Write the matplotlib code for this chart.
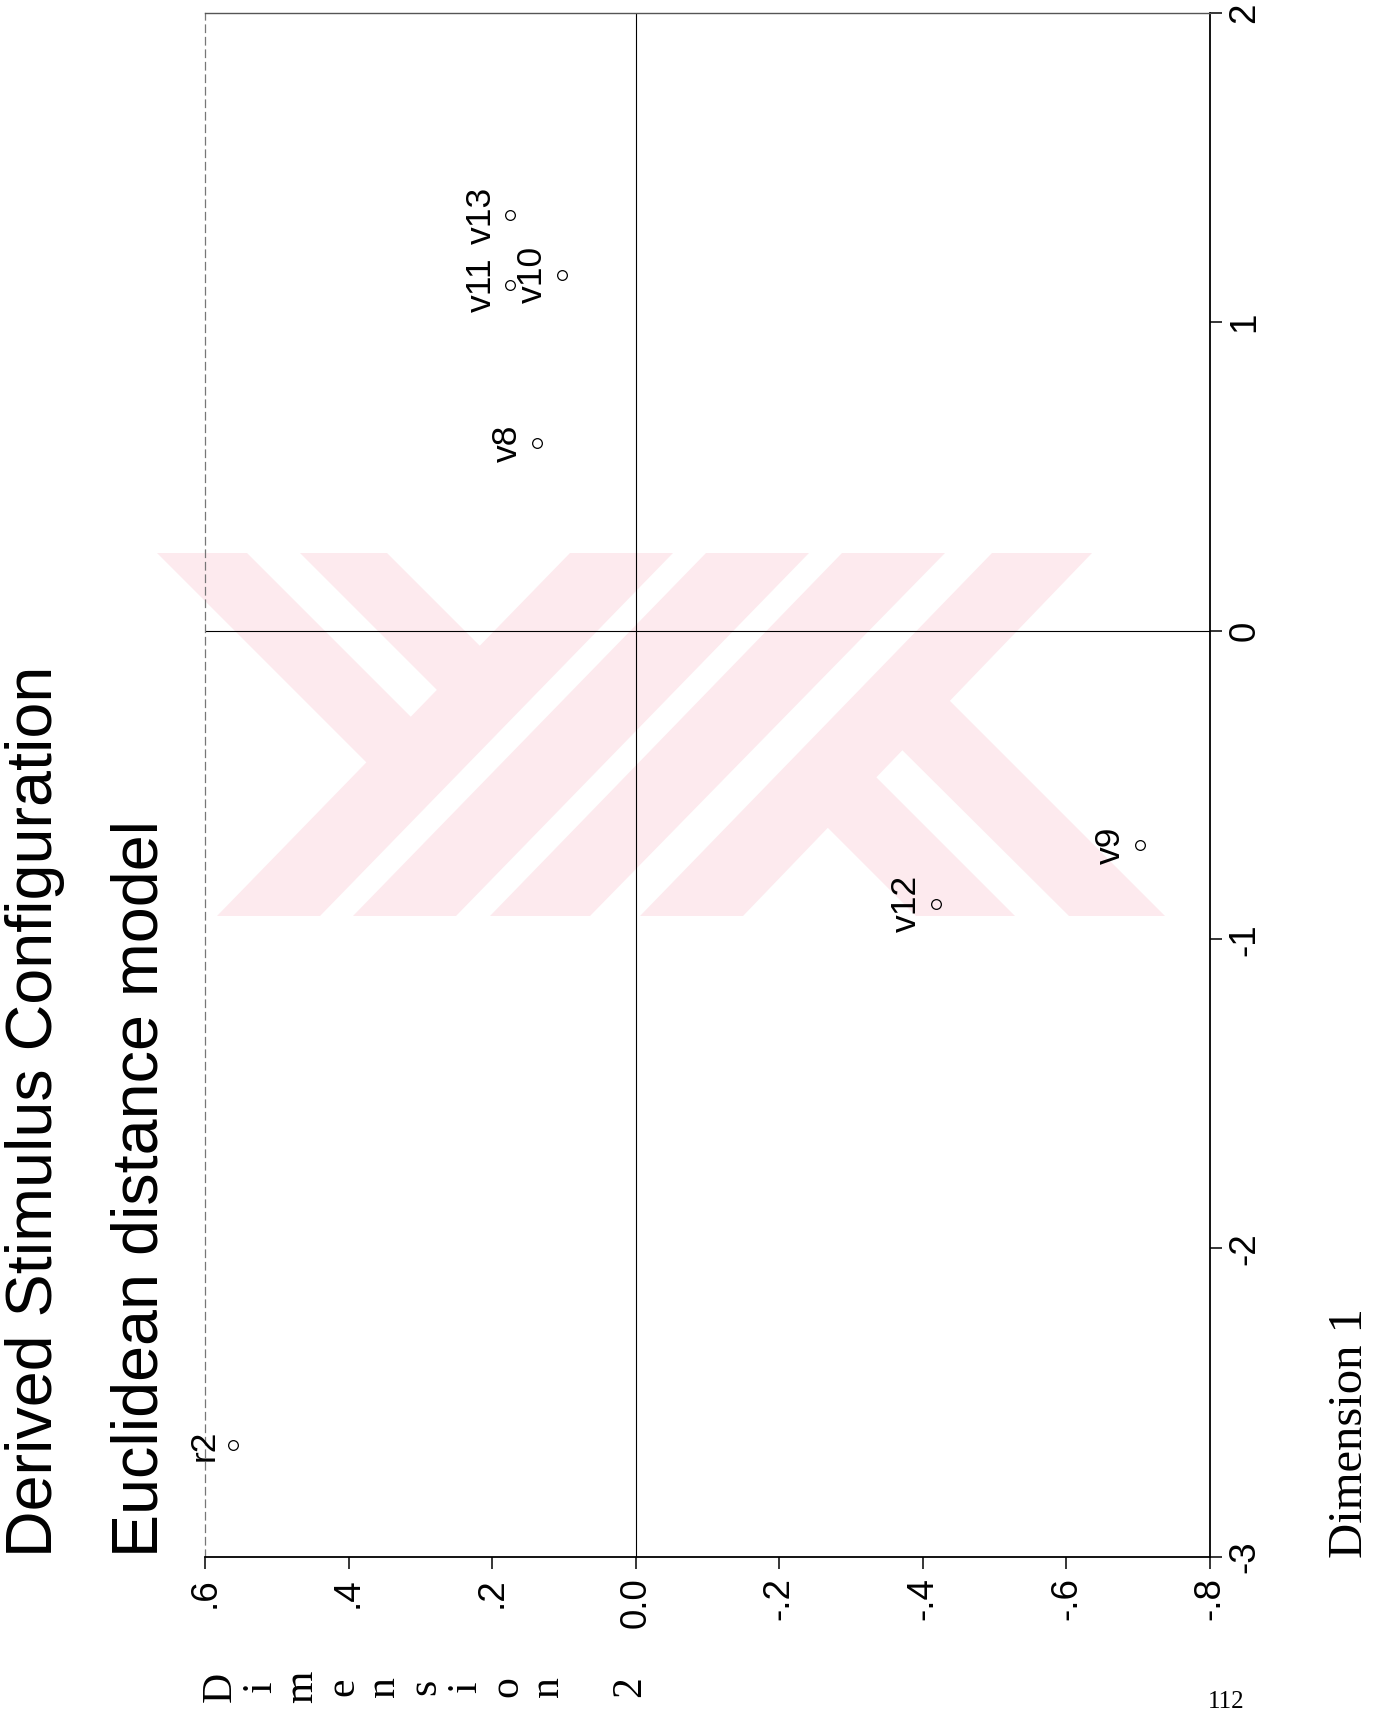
import matplotlib
matplotlib.use("Agg")
import matplotlib.pyplot as plt
from matplotlib.patches import Polygon

labels = ["r2", "v8", "v9", "v10", "v11", "v12", "v13"]
dim1 = [-2.637, 0.608, -0.694, 1.152, 1.119, -0.885, 1.346]
dim2 = [0.561, 0.138, -0.702, 0.103, 0.175, -0.418, 0.175]

dim1_ticks = [-3, -2, -1, 0, 1, 2]
dim1_ticklabels = ["-3", "-2", "-1", "0", "1", "2"]
dim2_ticks = [0.6, 0.4, 0.2, 0.0, -0.2, -0.4, -0.6, -0.8]
dim2_ticklabels = [".6", ".4", ".2", "0.0", "-.2", "-.4", "-.6", "-.8"]

W, H, DPI = 1388, 1716, 100
SANS = "Liberation Sans"
SERIF = "Liberation Serif"


def fpos(x, y):
    # page pixels -> figure fraction
    return x / W, 1 - y / H


fig = plt.figure(figsize=(W / DPI, H / DPI), dpi=DPI)

# faint pink watermark stamped on the scanned page (page pixel coords)
wm_shapes = [
    [(157, 553), (247, 553), (460, 766), (415, 811)],
    [(300, 553), (387, 553), (530, 696), (486, 739)],
    [(570, 553), (673, 553), (320, 916), (217, 916)],
    [(706, 553), (809, 553), (456, 916), (353, 916)],
    [(842, 553), (945, 553), (590, 916), (490, 916)],
    [(992, 553), (1092, 553), (743, 916), (640, 916)],
    [(916, 916), (1015, 916), (850, 751), (801, 801)],
    [(1069, 916), (1165, 916), (924, 675), (876, 724)],
]
for shp in wm_shapes:
    fig.patches.append(Polygon([fpos(x, y) for x, y in shp], closed=True,
                               transform=fig.transFigure, facecolor="#fdeaee",
                               edgecolor="none", zorder=-1))

# page is turned 90 degrees: Dimension 2 runs left->right (inverted), Dimension 1 bottom->top
x0, y0 = fpos(205, 1557)
ax = fig.add_axes([x0, y0, 1005 / W, 1544 / H])
ax.set_facecolor("none")

ax.axhline(0, color="black", lw=0.8, zorder=1)
ax.axvline(0, color="black", lw=0.8, zorder=1)
ax.plot(dim2, dim1, "o", ms=7, mfc="none", mec="black", mew=0.9, zorder=3)
for lab, x, y in zip(labels, dim2, dim1):
    ax.annotate(lab, (x, y), xytext=(-9, 0), textcoords="offset points",
                rotation=90, ha="right", va="center", fontsize=25.5,
                family=SANS, annotation_clip=False)

ax.set_xlim(0.6, -0.8)
ax.set_ylim(-3, 2)
ax.set_xticks(dim2_ticks, dim2_ticklabels)
ax.set_yticks(dim1_ticks, dim1_ticklabels)
ax.yaxis.tick_right()
ax.tick_params(direction="out", length=8.6, width=1.1, labelsize=26.5, colors="black")
ax.tick_params(axis="x", pad=6)
ax.tick_params(axis="y", pad=4)
for t in ax.get_xticklabels():
    t.set_rotation(90)
    t.set_family(SANS)
for t in ax.get_yticklabels():
    t.set_rotation(90)
    t.set_va("center")
    t.set_family(SANS)

ax.spines["bottom"].set_linewidth(1.3)
ax.spines["right"].set_linewidth(1.3)
ax.spines["top"].set_linewidth(1.0)
ax.spines["top"].set_color("#555555")
ax.spines["left"].set_linewidth(0.9)
ax.spines["left"].set_color("#777777")
ax.spines["left"].set_linestyle((0, (6, 4)))

# titles, reading bottom -> top
for bx, txt in [(52, "Derived Stimulus Configuration"), (157, "Euclidean distance model")]:
    fx, fy = fpos(bx, 1557)
    fig.text(fx, fy, txt, rotation=90, rotation_mode="anchor", ha="left",
             va="baseline", fontsize=46.5, family=SANS)

fx, fy = fpos(1362, 1558)
fig.text(fx, fy, "Dimension 1", rotation=90, rotation_mode="anchor", ha="left",
         va="baseline", fontsize=35, family=SERIF)

# SPSS stacks the Dimension 2 title one letter per line
for i, ch in enumerate("Dimension 2"):
    if ch == " ":
        continue
    fx, fy = fpos(220 + 41 * i, 1687)
    fig.text(fx, fy, ch, rotation=90, ha="center", va="center", fontsize=30, family=SERIF)

fx, fy = fpos(1226, 1702)
fig.text(fx, fy, "112", ha="center", va="center", fontsize=18, family=SERIF)

fig.savefig("out.png", dpi=DPI)
plt.close(fig)
